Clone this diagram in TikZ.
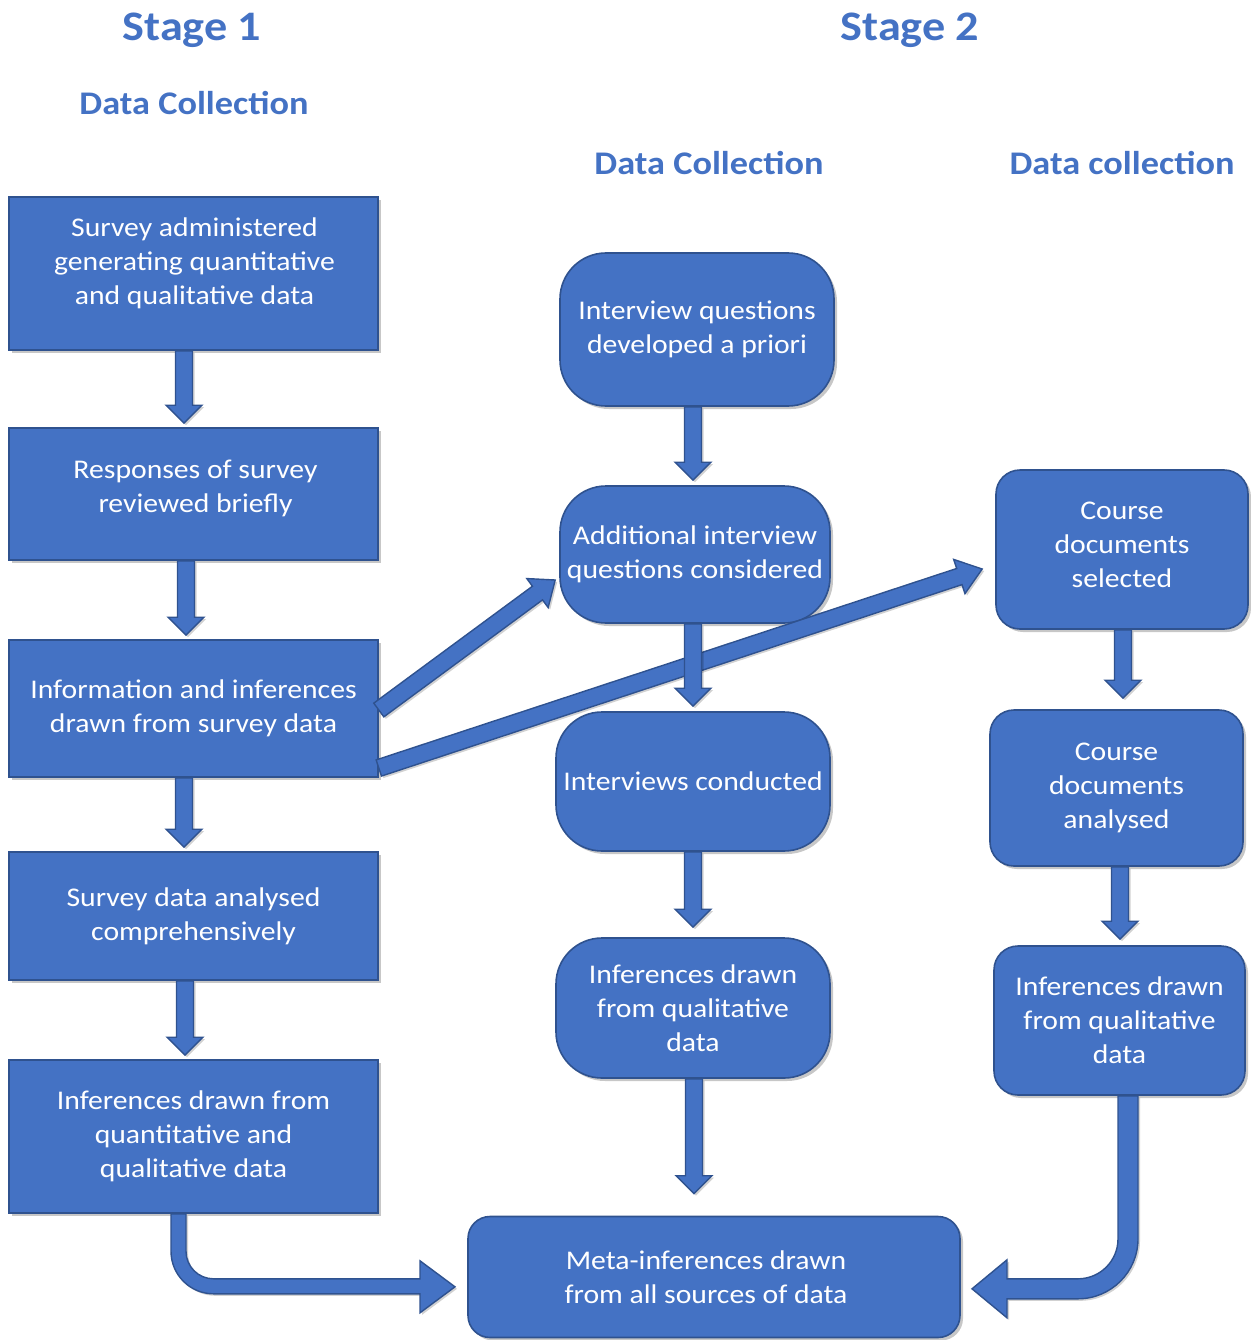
\documentclass[tikz,border=0pt]{standalone}
\usepackage{fontspec}
\setmainfont{Carlito}[FakeStretch=1.1]
\usetikzlibrary{calc,shadows}
\definecolor{mb}{HTML}{4472C4}
\definecolor{md}{HTML}{2F528F}
\newcommand\boxfont{\fontsize{27}{34}\selectfont}
\newcommand\stagefont{\fontsize{42}{48}\selectfont\bfseries}
\newcommand\dcfont{\fontsize{33}{40}\selectfont\bfseries}
% block arrow: from, to, shaft half width, head half width, head length
\newcommand\barrow[5]{%
  \filldraw[arrowsty] let \p1=(#1), \p2=(#2),
    \n1={atan2(\y2-\y1,\x2-\x1)}, \n2={veclen(\x2-\x1,\y2-\y1)} in
    ($(\p1)+({\n1+90}:#3)$)
    -- ($(\p1)+({\n1}:{\n2-#5})+({\n1+90}:#3)$)
    -- ($(\p1)+({\n1}:{\n2-#5})+({\n1+90}:#4)$)
    -- (\p2)
    -- ($(\p1)+({\n1}:{\n2-#5})+({\n1-90}:#4)$)
    -- ($(\p1)+({\n1}:{\n2-#5})+({\n1-90}:#3)$)
    -- ($(\p1)+({\n1-90}:#3)$) -- cycle;}
\tikzset{
  boxsty/.style={fill=mb, draw=md, line width=1.6pt, text=white, align=center,
    font=\boxfont, inner sep=0pt,
    drop shadow={shadow xshift=3pt, shadow yshift=-3pt, opacity=0.22, fill=black}},
  sqbox/.style={boxsty, rectangle, minimum width=369pt},
  pillbox/.style={boxsty, rectangle, rounded corners=46pt, minimum width=272pt},
  rbox/.style={boxsty, rectangle, rounded corners=24pt, minimum width=252pt},
  txtsty/.style={text=white, align=center, font=\boxfont, inner sep=0pt},
  arrowsty/.style={fill=mb, draw=md, line width=1.4pt, line join=miter,
    drop shadow={shadow xshift=2pt, shadow yshift=-2pt, opacity=0.18, fill=black}},
  titlesty/.style={text=mb, inner sep=0pt},
}
\begin{document}
\begin{tikzpicture}[x=1pt, y=1pt]
\useasboundingbox (0,0) rectangle (1250,-1340);

% titles
\node[titlesty, font=\stagefont] (st1) at (192,-30) {Stage 1};
\node[titlesty, font=\stagefont] (st2) at (910,-30) {Stage 2};
\node[titlesty, font=\dcfont] (dc1) at (194,-103) {Data Collection};
\node[titlesty, font=\dcfont] (dc2) at (709,-163) {Data Collection};
\node[titlesty, font=\dcfont] (dc3) at (1122,-163) {Data collection};

% left column
\node[sqbox, minimum height=153pt] (L1) at (193.5,-273.5) {};
\node[txtsty] (L1t) at ($(L1)+(1,10)$) {Survey administered\\generating quantitative\\and qualitative data};
\node[sqbox, minimum height=132pt] (L2) at (193.5,-494) {};
\node[txtsty] (L2t) at ($(L2)+(2,6)$) {Responses of survey\\reviewed briefly};
\node[sqbox, minimum height=137pt] (L3) at (193.5,-708.5) {Information and inferences\\drawn from survey data};
\node[sqbox, minimum height=128pt] (L4) at (193.5,-916) {Survey data analysed\\comprehensively};
\node[sqbox, minimum height=153pt] (L5) at (193.5,-1136.5) {Inferences drawn from\\quantitative and\\qualitative data};

% middle column
\node[pillbox, minimum width=274pt, minimum height=153pt] (M1) at (697,-329.5) {Interview questions\\developed a priori};
\node[pillbox, minimum width=270pt, minimum height=137pt] (M2) at (695,-554.5) {Additional interview\\questions considered};
\node[pillbox, minimum width=274pt, minimum height=139pt] (M3) at (693,-781.5) {Interviews conducted};
\node[pillbox, minimum width=274pt, minimum height=140pt] (M4) at (693,-1008) {Inferences drawn\\from qualitative\\data};
\node[boxsty, rounded corners=22pt, minimum width=492pt, minimum height=121pt] (Meta) at (714,-1277) {};
\node[txtsty] (Metat) at ($(Meta)+(-8,0)$) {Meta-inferences drawn\\from all sources of data};

% right column
\node[rbox, minimum height=159pt] (R1) at (1122,-549.5) {};
\node[txtsty] (R1t) at ($(R1)+(0,5)$) {Course\\documents\\selected};
\node[rbox, minimum width=253pt, minimum height=156pt] (R2) at (1116.5,-788) {Course\\documents\\analysed};
\node[rbox, minimum width=251pt, minimum height=149pt] (R3) at (1119.5,-1020.5) {Inferences drawn\\from qualitative\\data};

% diagonal arrows from L3
\barrow{$(L3.east)+(0,-1.5)$}{$(M2.west)+(-4,-25.5)$}{8.5}{18}{22}
\barrow{$(L3.east)+(0,-59.5)$}{$(R1.west)+(-13,-19.5)$}{8.5}{18}{24}

% vertical arrows, left
\barrow{$(L1.south)+(-9.5,0)$}{$(L2.north)+(-9.5,4)$}{8.5}{18}{18}
\barrow{$(L2.south)+(-7.5,0)$}{$(L3.north)+(-7.5,4)$}{8.5}{18}{18}
\barrow{$(L3.south)+(-9.5,0)$}{$(L4.north)+(-9.5,4)$}{8.5}{18}{18}
\barrow{$(L4.south)+(-8.5,0)$}{$(L5.north)+(-8.5,4)$}{8.5}{18}{18}

% vertical arrows, middle
\barrow{$(M1.south)+(-4,0)$}{$(M2.north)+(-2,5)$}{8.5}{18}{18}
\barrow{$(M2.south)+(-2,0)$}{$(M3.north)+(0,5)$}{8.5}{18}{18}
\barrow{$(M3.south)+(0,0)$}{$(M4.north)+(0,10)$}{8.5}{18}{18}
\barrow{$(M4.south)+(1,0)$}{$(Meta.north)+(-20,22)$}{8.5}{18}{18}

% vertical arrows, right
\barrow{$(R1.south)+(1,0)$}{$(R2.north)+(6.5,11)$}{8.5}{18}{18}
\barrow{$(R2.south)+(3.5,0)$}{$(R3.north)+(0.5,6)$}{8.5}{18}{18}

% curved arrow from L5 to Meta
\filldraw[arrowsty] ($(L5.south)+(-22.5,0)$) -- ++(0,-37.5)
  arc[start angle=180, end angle=270, radius=42.5]
  -- ++(206.5,0) -- ++(0,-19) -- ++(35,26) -- ++(-35,26) -- ++(0,-18)
  -- ++(-206.5,0)
  arc[start angle=270, end angle=180, radius=27.5]
  -- ++(0,37.5) -- cycle;

% curved arrow from R3 to Meta
\filldraw[arrowsty] ($(R3.south)+(18.5,0)$) -- ++(0,-143)
  arc[start angle=0, end angle=-90, radius=60]
  -- ++(-71,0) -- ++(0,-19) -- ++(-35,29) -- ++(35,29) -- ++(0,-19)
  -- ++(71,0)
  arc[start angle=-90, end angle=0, radius=40]
  -- ++(0,143) -- cycle;
\end{tikzpicture}
\end{document}
